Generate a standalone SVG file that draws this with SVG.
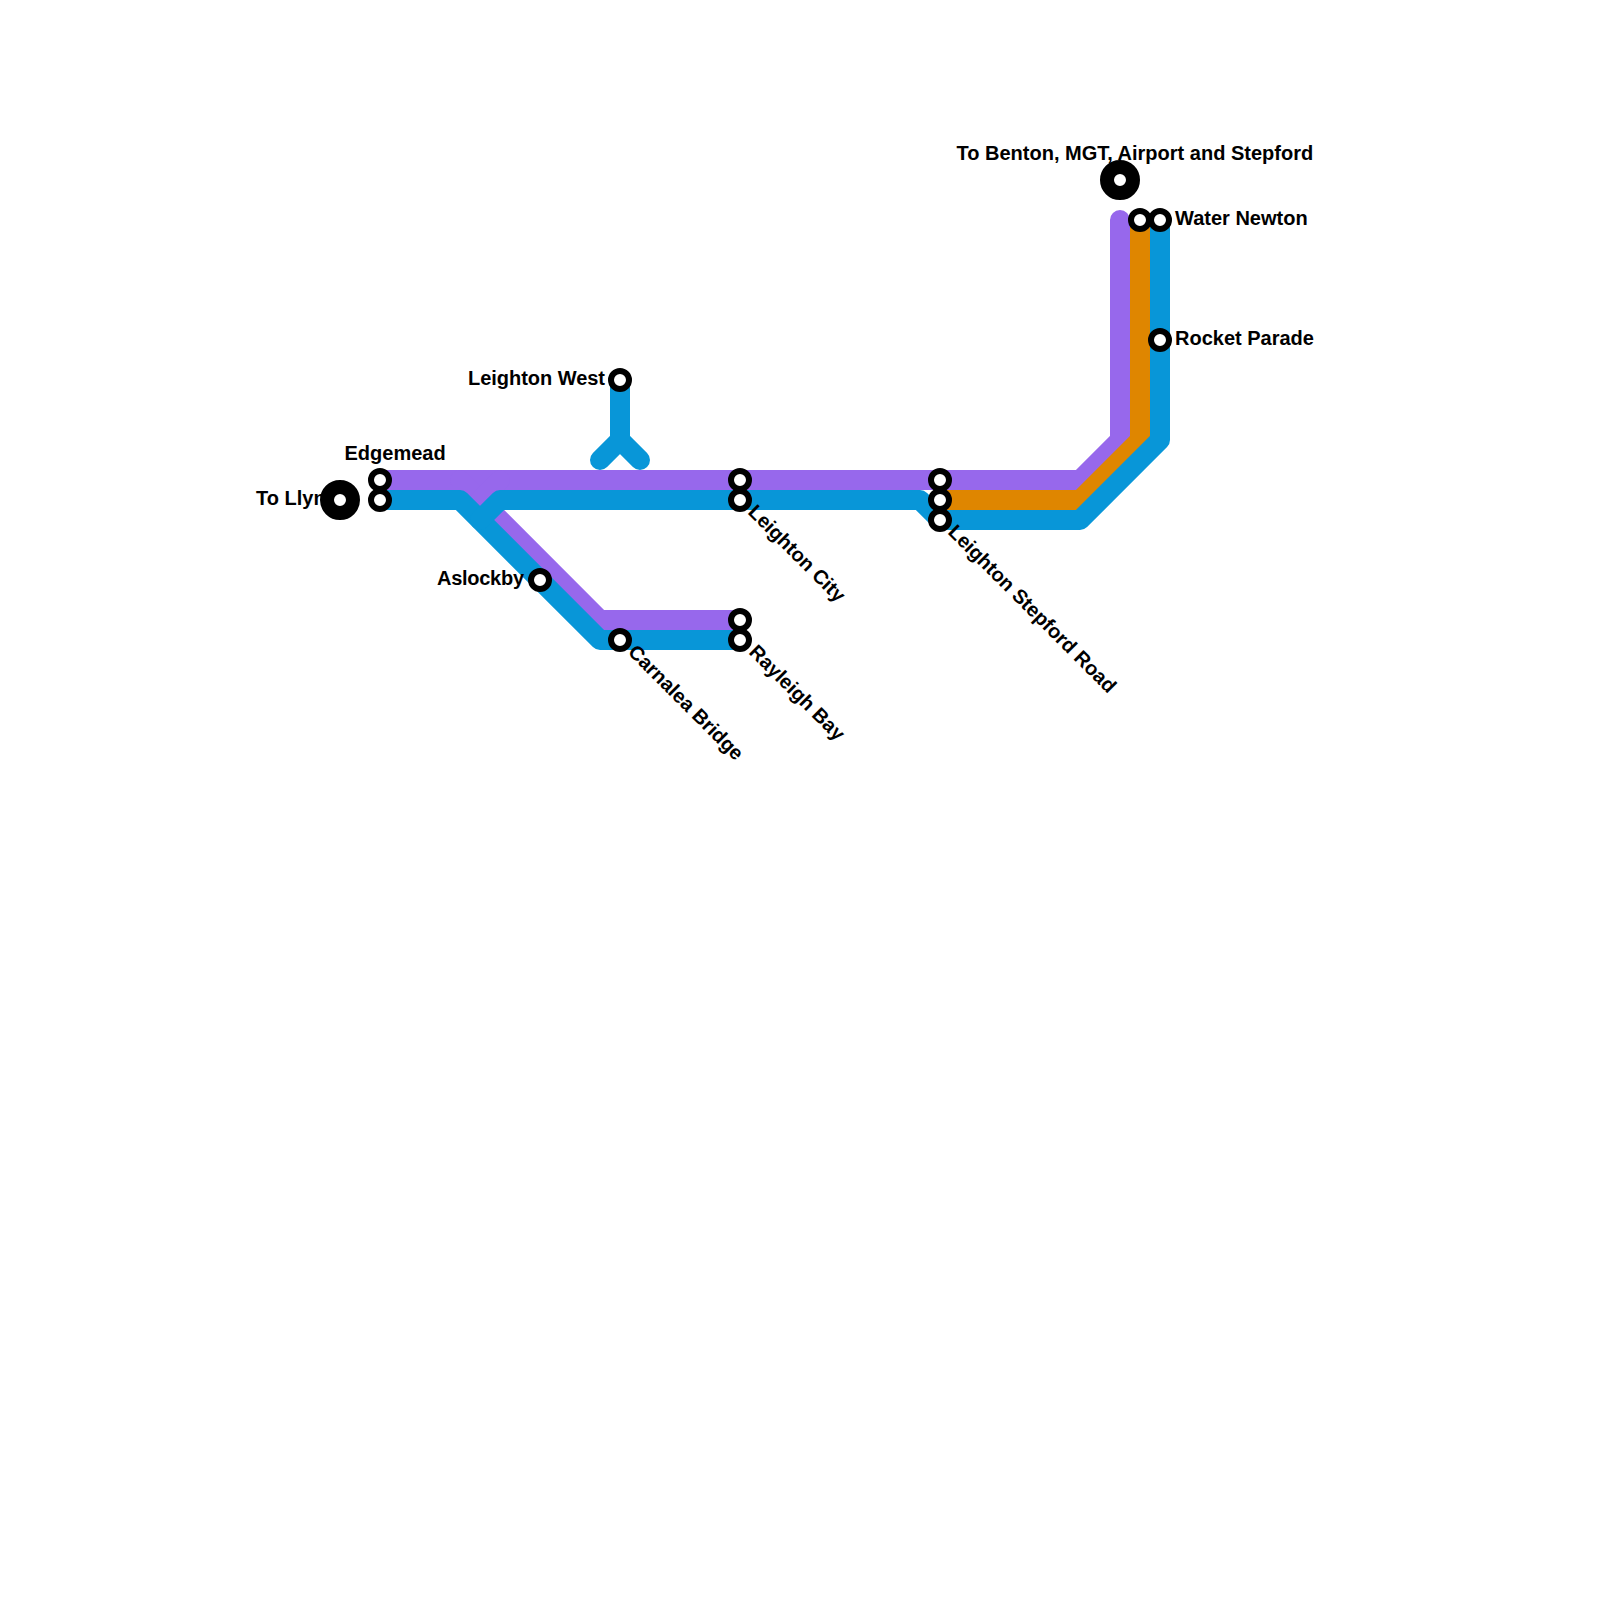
<svg xmlns="http://www.w3.org/2000/svg" width="1600" height="1600" viewBox="0 0 1600 1600">
<style>
.l{fill:none;stroke-width:20;stroke-linecap:round;stroke-linejoin:round}
.p{stroke:#9768ec}.o{stroke:#df8600}.b{stroke:#0896d8}
.s{fill:#fff;stroke:#000;stroke-width:6}
.t{fill:#fff;stroke:#000;stroke-width:14}
text{font-family:"Liberation Sans",Arial,sans-serif;font-weight:700;font-size:20px;fill:#000}
.e{text-anchor:end}
</style>
<rect width="1600" height="1600" fill="#fff"/>
<g id="connectors">
<path class="l p" d="M380 480H1080L1120 440V220"/>
<path class="l p" d="M460 480L600 620H740"/>
<path class="l p" d="M500 480L480 500"/>
<path class="l o" d="M940 500H1080L1140 440V220"/>
<path class="l b" d="M380 500H460L600 640H740"/>
<path class="l b" d="M480 520L500 500H920L940 520H1080L1160 440V220"/>
<path class="l b" d="M600 460L620 440V380M620 440L640 460"/>
</g>
<g id="to-llyn"><text x="256" y="505">To Llyn</text><circle class="t" cx="340" cy="500" r="13"/></g>
<g id="edgemead"><text x="344.5" y="460">Edgemead</text><circle class="s" cx="380" cy="480" r="9"/><circle class="s" cx="380" cy="500" r="9"/></g>
<g id="aslockby"><text class="e" x="524" y="585" textLength="87">Aslockby</text><circle class="s" cx="540" cy="580" r="9"/></g>
<g id="leighton-west"><text class="e" x="605" y="385" textLength="137">Leighton West</text><circle class="s" cx="620" cy="380" r="9"/></g>
<g id="carnalea-bridge"><text transform="translate(627 653) rotate(45)">Carnalea Bridge</text><circle class="s" cx="620" cy="640" r="9"/></g>
<g id="rayleigh-bay"><text transform="translate(748 653) rotate(45)">Rayleigh Bay</text><circle class="s" cx="740" cy="620" r="9"/><circle class="s" cx="740" cy="640" r="9"/></g>
<g id="leighton-city"><text transform="translate(747 513) rotate(45)">Leighton City</text><circle class="s" cx="740" cy="480" r="9"/><circle class="s" cx="740" cy="500" r="9"/></g>
<g id="leighton-stepford-road"><text transform="translate(947 533) rotate(45)">Leighton Stepford Road</text><circle class="s" cx="940" cy="480" r="9"/><circle class="s" cx="940" cy="500" r="9"/><circle class="s" cx="940" cy="520" r="9"/></g>
<g id="to-benton"><text x="956.5" y="160">To Benton, MGT, Airport and Stepford</text><circle class="t" cx="1120" cy="180" r="13"/></g>
<g id="water-newton"><text x="1175" y="225">Water Newton</text><circle class="s" cx="1140" cy="220" r="9"/><circle class="s" cx="1160" cy="220" r="9"/></g>
<g id="rocket-parade"><text x="1175" y="345">Rocket Parade</text><circle class="s" cx="1160" cy="340" r="9"/></g>
</svg>
